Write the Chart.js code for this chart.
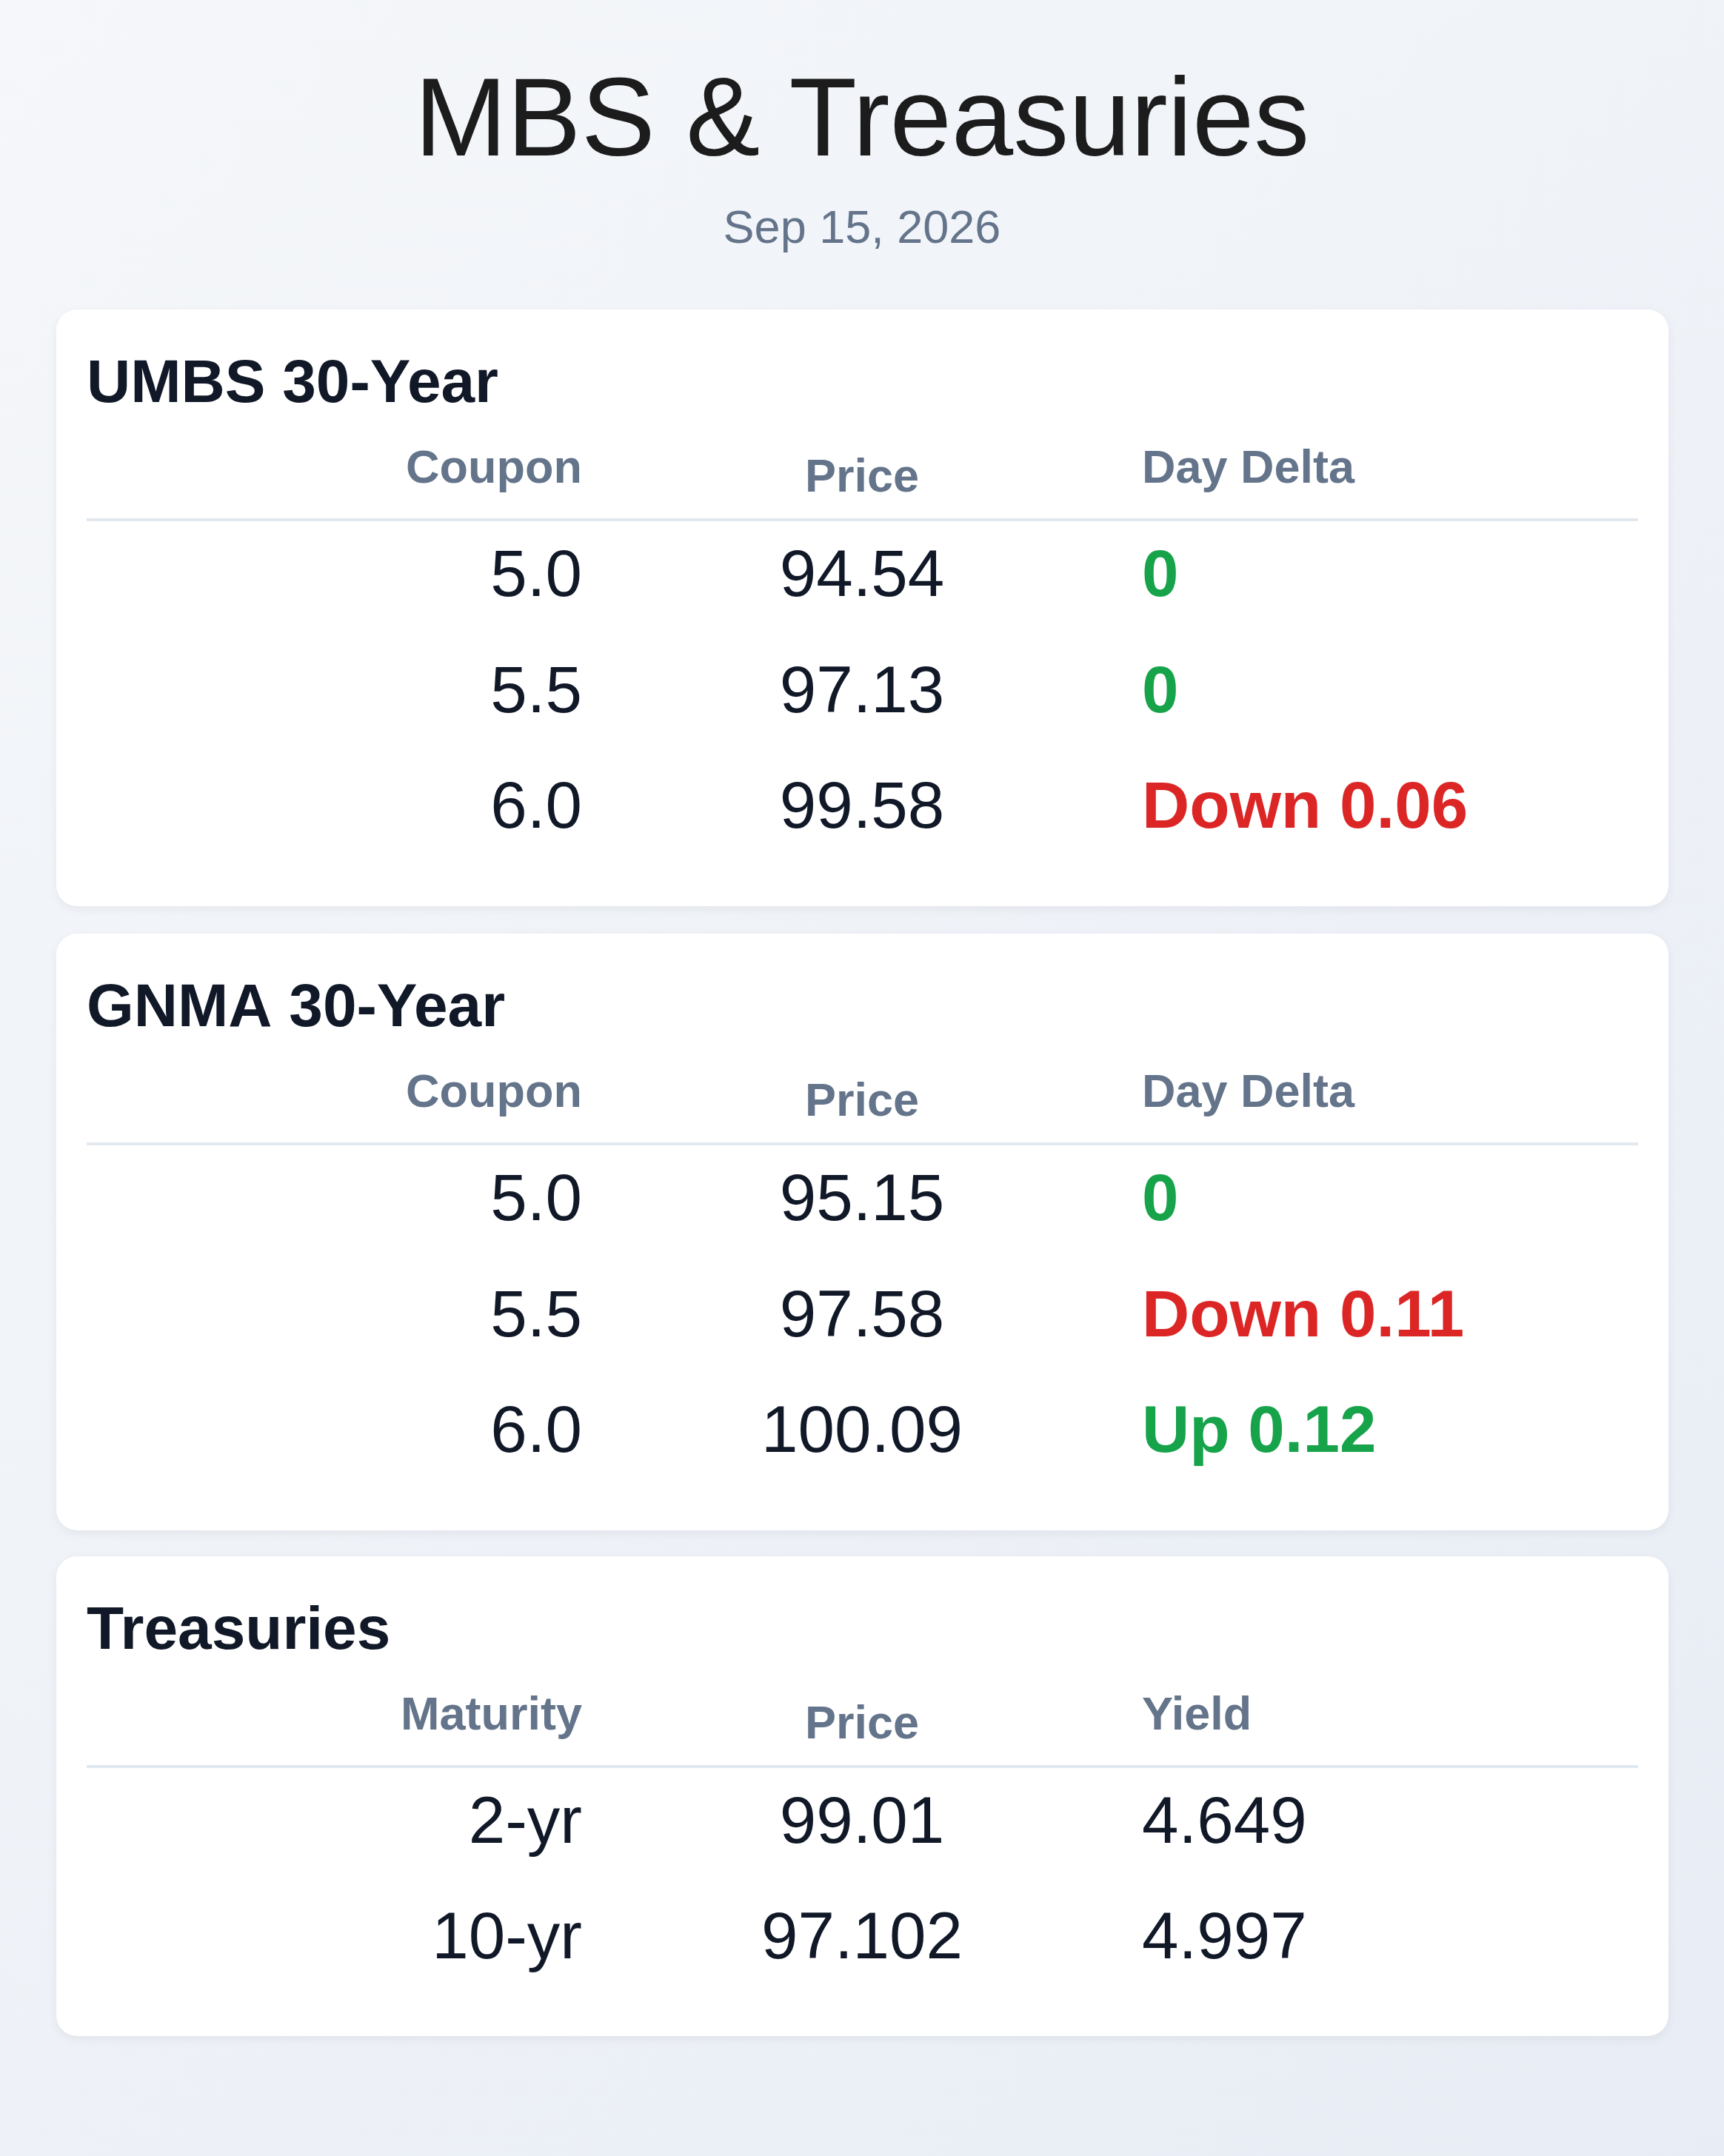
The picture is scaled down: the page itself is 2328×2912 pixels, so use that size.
<!DOCTYPE html>
<html>
<head>
<meta charset="utf-8">
<script src="https://cdn.jsdelivr.net/npm/chart.js@4"></script>
<style>
  body { margin: 0; width: 2328px; height: 2912px; font-family: "Liberation Sans", Arial, sans-serif;
         background: linear-gradient(135deg, #f5f7fa 0%, #e8edf5 100%); }
  h1 { margin: 0; position: absolute; top: 78px; width: 2328px; text-align: center; font-weight: 400;
       font-size: 150px; color: #1c1c1c; line-height: 160px; }
  .sub { position: absolute; top: 270px; width: 2328px; text-align: center; font-size: 63px; color: #64748b; }
  .card { position: absolute; left: 76px; width: 2177px; background: #fff; border-radius: 28px;
          box-shadow: 0 4px 14px rgba(0,0,0,0.06); }
</style>
</head>
<body>
<h1>MBS &amp; Treasuries</h1>
<div class="sub">Sep 15, 2026</div>
<div class="card" style="top:418px;height:806px"><canvas id="c1"></canvas></div>
<div class="card" style="top:1261px;height:806px"><canvas id="c2"></canvas></div>
<div class="card" style="top:2102px;height:648px"><canvas id="c3"></canvas></div>
<script>
// UMBS 30-Year
const umbsCoupons = ['5.0', '5.5', '6.0'];
const umbsPrices = ['94.54', '97.13', '99.58'];
const umbsDeltas = ['0', '0', 'Down 0.06'];
// GNMA 30-Year
const gnmaCoupons = ['5.0', '5.5', '6.0'];
const gnmaPrices = ['95.15', '97.58', '100.09'];
const gnmaDeltas = ['0', 'Down 0.11', 'Up 0.12'];
// Treasuries
const tsyMaturities = ['2-yr', '10-yr'];
const tsyPrices = ['99.01', '97.102'];
const tsyYields = ['4.649', '4.997'];

const GREEN = '#16a34a', RED = '#dc2626', DARK = '#111827', MUTED = '#64748b';

function deltaColor(d) { return d.startsWith('Down') ? RED : GREEN; }

const tablePlugin = {
  id: 'table',
  afterDraw(chart, args, opts) {
    const ctx = chart.ctx, x = chart.scales.x, y = chart.scales.y, a = chart.chartArea;
    ctx.save();
    ctx.textBaseline = 'middle';
    // title
    ctx.font = 'bold 82px "Liberation Sans", Arial, sans-serif';
    ctx.fillStyle = DARK; ctx.textAlign = 'left';
    ctx.fillText(opts.title, 41, a.top - 182);
    // headers
    const aligns = ['right', 'center', 'left'];
    ctx.font = 'bold 63px "Liberation Sans", Arial, sans-serif';
    ctx.fillStyle = MUTED;
    opts.headers.forEach((h, j) => {
      ctx.textAlign = aligns[j];
      ctx.fillText(h, x.getPixelForValue(j), a.top - 67 + (j === 1 ? 12 : 0));
    });
    // divider
    ctx.strokeStyle = '#e2e8f0'; ctx.lineWidth = 4;
    ctx.beginPath(); ctx.moveTo(41, a.top); ctx.lineTo(2136, a.top); ctx.stroke();
    // rows
    opts.columns.forEach((col, j) => {
      ctx.textAlign = aligns[j];
      col.forEach((v, i) => {
        const style = opts.styles[j];
        ctx.font = (style === 'delta' ? 'bold ' : '') + '89px "Liberation Sans", Arial, sans-serif';
        ctx.fillStyle = style === 'delta' ? deltaColor(v) : DARK;
        ctx.fillText(v, x.getPixelForValue(j), y.getPixelForValue(i));
      });
    });
    ctx.restore();
  }
};

function makeTable(id, title, headers, columns, styles) {
  new Chart(document.getElementById(id), {
    type: 'scatter',
    data: { labels: columns[0], datasets: [] },
    options: {
      responsive: true, maintainAspectRatio: false, animation: false, devicePixelRatio: 1,
      layout: { padding: { left: 521, right: 522, top: 284, bottom: 52 } },
      scales: {
        x: { type: 'category', labels: headers, offset: true, display: false },
        y: { type: 'category', labels: columns[0], offset: true, display: false }
      },
      plugins: { legend: { display: false }, tooltip: { enabled: false },
                 table: { title, headers, columns, styles } }
    },
    plugins: [tablePlugin]
  });
}

makeTable('c1', 'UMBS 30-Year', ['Coupon', 'Price', 'Day Delta'],
  [umbsCoupons, umbsPrices, umbsDeltas], ['plain', 'plain', 'delta']);
makeTable('c2', 'GNMA 30-Year', ['Coupon', 'Price', 'Day Delta'],
  [gnmaCoupons, gnmaPrices, gnmaDeltas], ['plain', 'plain', 'delta']);
makeTable('c3', 'Treasuries', ['Maturity', 'Price', 'Yield'],
  [tsyMaturities, tsyPrices, tsyYields], ['plain', 'plain', 'plain']);
</script>
</body>
</html>
